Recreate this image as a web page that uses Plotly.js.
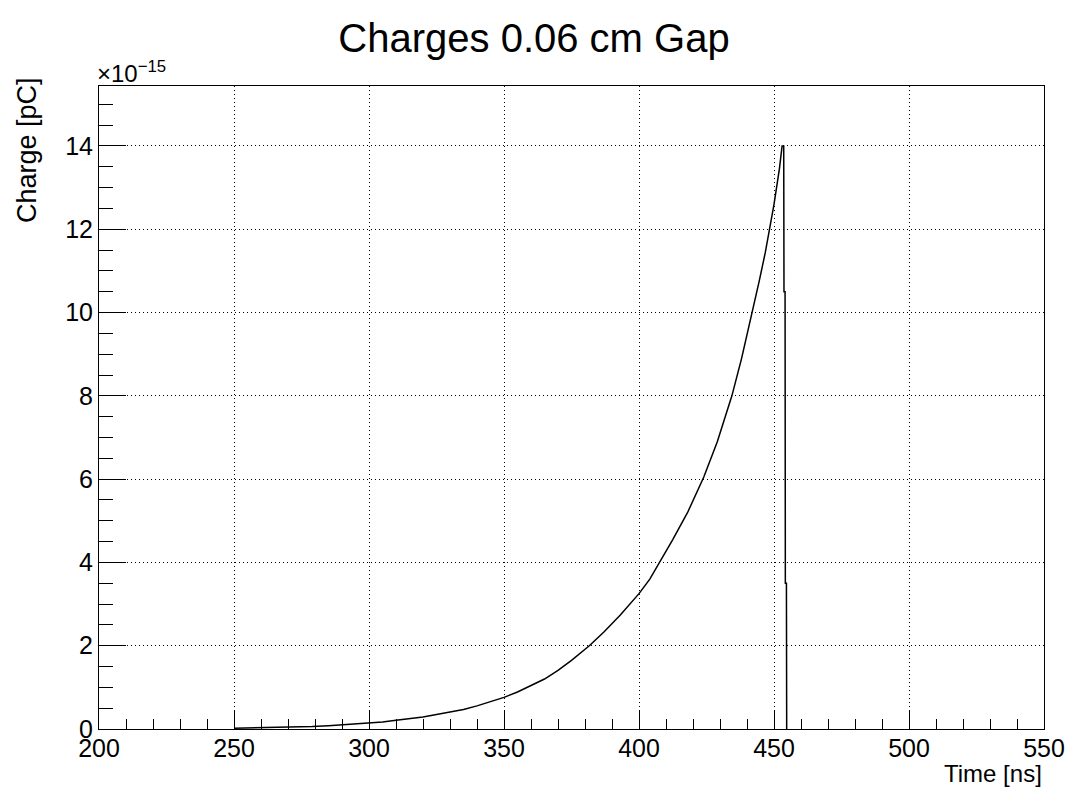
<!DOCTYPE html>
<html>
<head>
<meta charset="utf-8">
<script src="https://cdn.plot.ly/plotly-3.0.1.min.js"></script>
<style>html,body{margin:0;padding:0;background:#fff;}#chart{width:1068px;height:787px;}</style>
</head>
<body>
<div id="chart"></div>
<script>
// Time [ns]
const timeNs = [250, 260, 270, 279, 285, 290, 295, 300, 305, 310, 315, 320, 325, 330, 335, 340, 345, 350, 355, 360, 365, 370, 375, 381.6, 387, 393, 400, 404, 407.6, 412.5, 418, 424, 429, 434.4, 438, 442, 444.5, 446.8, 448, 450, 452, 453, 453.6, 453.7, 454.1, 454.2, 454.6, 454.7];
// Charge, in units of 1e-15 pC (axis shows x10^-15)
const chargeE15 = [0.02, 0.03, 0.04, 0.06, 0.08, 0.10, 0.12, 0.14, 0.17, 0.21, 0.25, 0.29, 0.35, 0.41, 0.47, 0.555, 0.65, 0.76, 0.89, 1.04, 1.2, 1.41, 1.65, 2.0, 2.33, 2.73, 3.25, 3.6, 4.0, 4.55, 5.2, 6.05, 6.9, 8.0, 8.9, 10.0, 10.75, 11.45, 11.85, 12.6, 13.45, 14.0, 14.0, 10.5, 10.5, 3.5, 3.5, 0];

const titleText = "Charges 0.06 cm Gap";
const xTitle = "Time [ns]";
const yTitle = "Charge [pC]";
const yExponent = "×10<sup>−15</sup>";

const font = "Liberation Sans, Arial, Helvetica, sans-serif";

const trace = {
  x: timeNs, y: chargeE15, type: "scatter", mode: "lines",
  line: {color: "#000", width: 1.5, shape: "linear"},
  hoverinfo: "skip", showlegend: false
};

const gridStyle = {showgrid: true, gridcolor: "#000", gridwidth: 1, griddash: "1px,3px"};

const layout = {
  width: 1068, height: 787,
  paper_bgcolor: "#fff", plot_bgcolor: "#fff",
  margin: {l: 99, r: 24, t: 86, b: 58},
  font: {family: font, color: "#000", size: 25},
  title: {text: titleText, x: 0.5, xref: "container", xanchor: "center", y: 1 - 38/787, yref: "container", yanchor: "middle", font: {family: font, size: 40, color: "#000"}},
  xaxis: Object.assign({
    range: [200, 550], tick0: 200, dtick: 50, ticks: "inside", ticklen: 19, tickwidth: 1, tickcolor: "#000",
    showline: true, linecolor: "#000", linewidth: 1, mirror: true, zeroline: false,
    tickfont: {family: font, size: 25, color: "#000"}, ticklabelstandoff: -3,
    minor: {dtick: 10, ticks: "inside", ticklen: 10, tickwidth: 1, tickcolor: "#000", showgrid: false}
  }, gridStyle),
  yaxis: Object.assign({
    range: [0, 15.44], tick0: 0, dtick: 2, ticks: "inside", ticklen: 27, tickwidth: 1, tickcolor: "#000",
    showline: true, linecolor: "#000", linewidth: 1, mirror: true, zeroline: false,
    tickfont: {family: font, size: 25, color: "#000"},
    minor: {dtick: 0.5, ticks: "inside", ticklen: 14, tickwidth: 1, tickcolor: "#000", showgrid: false}
  }, gridStyle),
  annotations: [
    {text: yTitle, xref: "paper", yref: "paper", x: (27 - 99)/946, y: (729 - 75)/643, xanchor: "center", yanchor: "top", textangle: -90, showarrow: false, font: {family: font, size: 27, color: "#000"}},
    {text: xTitle, xref: "paper", yref: "paper", x: 1, y: (729 - 773)/643, xanchor: "right", yanchor: "middle", showarrow: false, font: {family: font, size: 24, color: "#000"}},
    {text: yExponent, xref: "paper", yref: "paper", x: (95 - 99)/946, y: (729 - 72)/643, xanchor: "left", yanchor: "middle", showarrow: false, font: {family: font, size: 24, color: "#000"}}
  ]
};

Plotly.newPlot("chart", [trace], layout, {displayModeBar: false, staticPlot: true});
</script>
</body>
</html>
